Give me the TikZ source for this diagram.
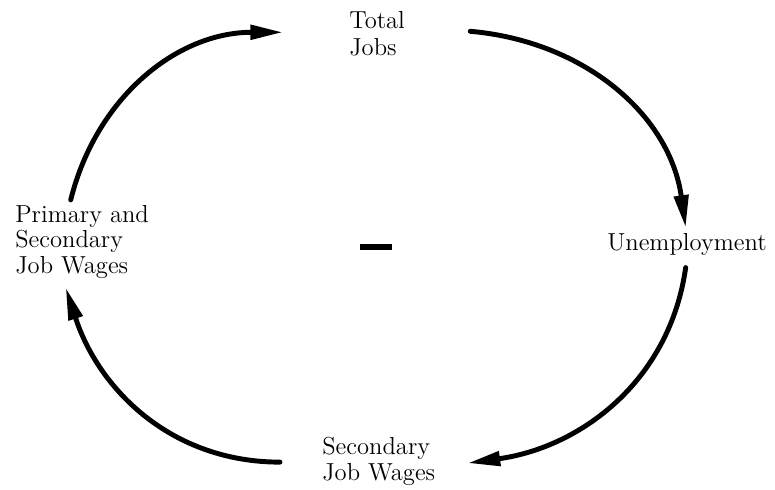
\documentclass[tikz,border=0pt]{standalone}
\usetikzlibrary{arrows.meta,calc}
\begin{document}
\begin{tikzpicture}[x=0.02cm, y=-0.02cm, line cap=round, line join=round,
  voce/.style={align=left, inner sep=0pt, anchor=base west,
    font=\fontsize{14}{14.5}\selectfont},
  freccia/.style={line width=2.8pt, -{Triangle[length=18.5pt,width=8pt]}}]
  \useasboundingbox (0,0) rectangle (775,490);

  % variabili del ciclo
  \node[voce, font=\fontsize{14}{15.3}\selectfont] (total) at (349,55) {Total\\Jobs};
  \node[voce] (unemp) at (607,250) {Unemployment};
  \node[voce] (secjob) at (322,480) {Secondary\\Job Wages};
  \node[voce] (primsec) at (15,273) {Primary and\\Secondary\\Job Wages};

  % segno del ciclo
  \node[inner sep=0pt] (segno) at (376,247) {\rule{18pt}{3.4pt}};

  % frecce
  \draw[freccia] ($(primsec.north)+(-11.4,-4.7)$) to[out=76,in=180]
    ($(total.west)+(-66,-1)$);
  \draw[freccia] ($(total.east)+(65,-2)$) to[out=-5,in=98]
    ($(unemp.north)+(-1.3,-4.9)$);
  \draw[freccia] ($(unemp.south)+(-1.3,12.2)$) to[out=-98,in=8]
    ($(secjob.east)+(32.2,2)$);
  \draw[freccia] ($(secjob.west)+(-42,1)$) to[out=180,in=-72]
    ($(primsec.south)+(-16.4,9.2)$);
\end{tikzpicture}
\end{document}
